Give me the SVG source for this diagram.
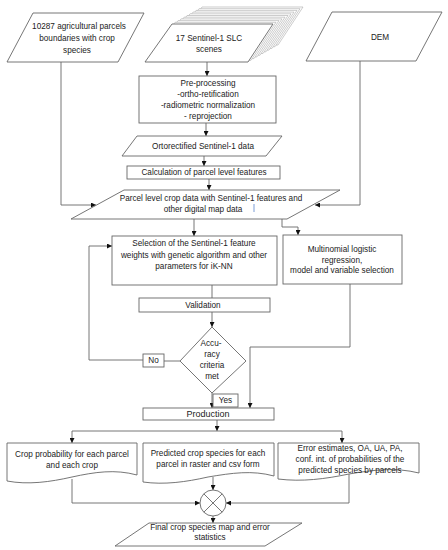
<svg xmlns="http://www.w3.org/2000/svg" width="448" height="550" viewBox="0 0 448 550">
<defs>
<marker id="ah" viewBox="0 0 8 8" refX="8" refY="4" markerWidth="5" markerHeight="5" orient="auto" markerUnits="userSpaceOnUse">
<path d="M0,0 L8,4 L0,8 z" fill="#111"/>
</marker>
</defs>
<style>
.s{fill:#fff;stroke:#666;stroke-width:0.9}
.l{fill:#fff;stroke:#aaa;stroke-width:0.6}
.c{fill:none;stroke:#666;stroke-width:0.9}
.a{marker-end:url(#ah)}
text{font-family:"Liberation Sans",Arial,sans-serif;font-size:8.2px;fill:#222;text-anchor:middle;dominant-baseline:central}
</style>
<rect width="448" height="550" fill="#fff"/>
<g id="connectors">
<path class="c a" d="M207,62 V76"/>
<path class="c a" d="M206,123 V136"/>
<path class="c a" d="M204,156 V166"/>
<path class="c a" d="M209,179 V190"/>
<path class="c a" d="M61,62 V205 H96"/>
<path class="c a" d="M360,61 V205 H315"/>
<path class="c a" d="M194,219 V236"/>
<path class="c a" d="M282,219 V227 H298 V235"/>
<path class="c" d="M212,285 V298"/>
<path class="c a" d="M212,312 V327"/>
<path class="c" d="M180,361 H164"/>
<path class="c a" d="M143,360 H89 V246 H112"/>
<path class="c a" d="M212,393 V408"/>
<path class="c a" d="M350,284 V347 H250 V408"/>
<path class="c a" d="M217,420 V431"/>
<path class="c a" d="M217,431 H72 V443"/>
<path class="c a" d="M217,431 H342 V443"/>
<path class="c a" d="M72,479 V503 H200"/>
<path class="c a" d="M213,477 V490"/>
<path class="c a" d="M349,474 V503 H226"/>
<path class="c a" d="M213,516 V523"/>
</g>
<g id="parcels">
<polygon class="s" points="33,13 144,13 118,62 7,62"/>
<text x="79" y="26">10287 agricultural parcels</text>
<text x="77" y="38">boundaries with  crop</text>
<text x="77" y="50">species</text>
</g>
<g id="sentinel">
<polygon class="l" points="202,7 303,7 278,45 175,45"/>
<polygon class="l" points="199,8.7 300,8.7 275,46.7 172,46.7"/>
<polygon class="l" points="196,10.4 297,10.4 272,48.4 169,48.4"/>
<polygon class="l" points="193,12.1 294,12.1 269,50.1 166,50.1"/>
<polygon class="l" points="190,13.8 291,13.8 266,51.8 163,51.8"/>
<polygon class="l" points="187,15.5 288,15.5 263,53.5 160,53.5"/>
<polygon class="l" points="184,17.2 285,17.2 260,55.2 157,55.2"/>
<polygon class="l" points="181,18.9 282,18.9 257,56.9 154,56.9"/>
<polygon class="l" points="178,20.6 279,20.6 254,58.6 151,58.6"/>
<polygon class="l" points="175,22.3 276,22.3 251,60.3 148,60.3"/>
<polygon class="s" points="172,24 273,24 248,62 145,62"/>
<text x="209" y="38">17 Sentinel-1 SLC</text>
<text x="209" y="49">scenes</text>
</g>
<g id="dem">
<polygon class="s" points="332,12 442,12 416,61 306,61"/>
<text x="380" y="37">DEM</text>
</g>
<g id="preprocessing">
<rect class="s" x="139" y="76" width="137" height="47"/>
<text x="208" y="83">Pre-processing</text>
<text x="208" y="94">-ortho-retification</text>
<text x="208" y="105">-radiometric normalization</text>
<text x="208" y="116">- reprojection</text>
</g>
<g id="ortho">
<polygon class="s" points="137,136 282,136 266,156 122,156"/>
<text x="203" y="146">Ortorectified Sentinel-1 data</text>
</g>
<g id="calc">
<rect class="s" x="127" y="166" width="153" height="13"/>
<text x="204" y="172.5">Calculation of parcel level features</text>
</g>
<g id="parcelcrop">
<polygon class="s" points="124,190 340,190 287,219 71,219"/>
<text x="211" y="198">Parcel level crop data with Sentinel-1 features and</text>
<text x="203" y="209">other digital map data</text>
<line x1="254" y1="204" x2="254" y2="212" stroke="#4472c4" stroke-width="0.7"/>
</g>
<g id="selection">
<rect class="s" x="112" y="236" width="165" height="49"/>
<text x="194" y="243">Selection of the Sentinel-1 feature</text>
<text x="194" y="255">weights with  genetic algorithm and other</text>
<text x="194" y="266">parameters for  iK-NN</text>
</g>
<g id="multinomial">
<rect class="s" x="283" y="235" width="119" height="49"/>
<text x="342" y="249">Multinomial  logistic</text>
<text x="342" y="260">regression,</text>
<text x="342" y="270">model and variable selection</text>
</g>
<g id="validation">
<rect class="s" x="139" y="298" width="131" height="14"/>
<text x="203" y="305">Validation</text>
</g>
<g id="accuracy">
<polygon class="s" points="212,327 246,361 212,393 180,361"/>
<text x="211" y="343">Accu-</text>
<text x="212" y="354">racy</text>
<text x="212" y="365">criteria</text>
<text x="212" y="376">met</text>
</g>
<g id="no">
<rect class="s" x="143" y="354" width="21" height="13"/>
<text x="153.5" y="360.5">No</text>
</g>
<g id="yes">
<rect class="s" x="213" y="394" width="25" height="13"/>
<text x="225.5" y="400.5">Yes</text>
</g>
<g id="production">
<rect class="s" x="143" y="408" width="131" height="12"/>
<text x="208" y="414" style="font-size:9px">Production</text>
</g>
<g id="cropprob">
<path class="s" d="M7,443 H137 V475 C115,469 95,472 72,477 C50,482 28,485 7,481 Z"/>
<text x="72" y="454">Crop probability  for each parcel</text>
<text x="72" y="465">and each crop</text>
</g>
<g id="predicted">
<path class="s" d="M143,443 H274 V476 C252,470 232,473 208,477 C186,482 164,485 143,482 Z"/>
<text x="208" y="453">Predicted crop species for each</text>
<text x="208" y="464">parcel in raster and csv form</text>
</g>
<g id="errors">
<path class="s" d="M278,443 H419 V473 C395,467 373,470 349,474 C325,479 302,482 278,479 Z"/>
<text x="350" y="448">Error estimates,  OA, UA, PA,</text>
<text x="350" y="459">conf. int. of probabilities of the</text>
<text x="350" y="470">predicted species by parcels</text>
</g>
<g id="junction">
<circle class="s" cx="213" cy="503" r="13"/>
<path class="c" d="M203.8,493.8 L222.2,512.2 M222.2,493.8 L203.8,512.2"/>
</g>
<g id="final">
<polygon class="s" points="149,523 302,523 265,546 115,546"/>
<text x="210" y="527">Final crop species map and error</text>
<text x="210" y="537">statistics</text>
</g>
</svg>
